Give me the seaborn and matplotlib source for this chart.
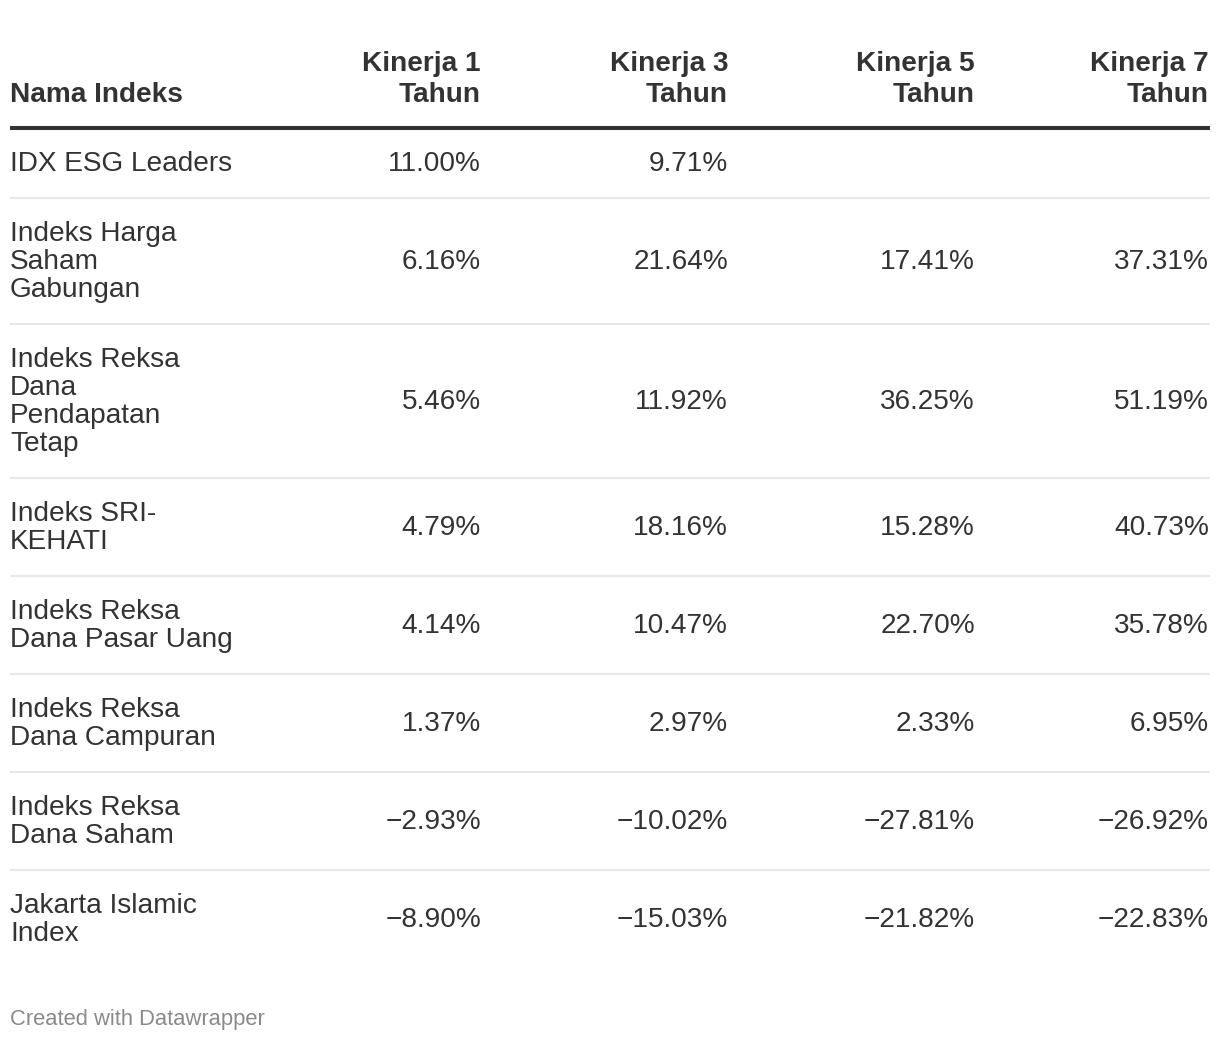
import matplotlib.pyplot as plt
import seaborn as sns
import numpy as np

# table data
names = [
    "IDX ESG Leaders",
    "Indeks Harga\nSaham\nGabungan",
    "Indeks Reksa\nDana\nPendapatan\nTetap",
    "Indeks SRI-\nKEHATI",
    "Indeks Reksa\nDana Pasar Uang",
    "Indeks Reksa\nDana Campuran",
    "Indeks Reksa\nDana Saham",
    "Jakarta Islamic\nIndex",
]
headers = ["Nama Indeks", "Kinerja 1\nTahun", "Kinerja 3\nTahun", "Kinerja 5\nTahun", "Kinerja 7\nTahun"]
kinerja_1 = [11.00, 6.16, 5.46, 4.79, 4.14, 1.37, -2.93, -8.90]
kinerja_3 = [9.71, 21.64, 11.92, 18.16, 10.47, 2.97, -10.02, -15.03]
kinerja_5 = [None, 17.41, 36.25, 15.28, 22.70, 2.33, -27.81, -21.82]
kinerja_7 = [None, 37.31, 51.19, 40.73, 35.78, 6.95, -26.92, -22.83]

sns.set_theme(style="white")
plt.rcParams["font.family"] = ["Liberation Sans", "DejaVu Sans"]

W, H = 1220, 1040
fig = plt.figure(figsize=(W / 100, H / 100), dpi=100)
ax = fig.add_axes([0, 0, 1, 1])
ax.set_xlim(0, W)
ax.set_ylim(H, 0)
ax.axis("off")

txt = "#333333"
fs = 20.2
line_h = 28
pad = 42
left, right = 10, 1210
col_right = [481, 728, 975, 1209]


def fmt(v):
    if v is None:
        return ""
    s = f"{abs(v):.2f}%"
    return ("\u2212" + s) if v < 0 else s


# header
for i, h in enumerate(headers):
    lines = h.split("\n")
    base = 102
    for j, ln in enumerate(reversed(lines)):
        if i == 0:
            ax.text(left, base - j * 31, ln, ha="left", va="baseline",
                    fontsize=fs, fontweight="bold", color=txt)
        else:
            ax.text(col_right[i - 1], base - j * 31, ln, ha="right", va="baseline",
                    fontsize=fs, fontweight="bold", color=txt)

header_y = 128
ax.hlines(header_y, left, right, color=txt, lw=2.9)

cols = [kinerja_1, kinerja_3, kinerja_5, kinerja_7]
top = header_y
for r, name in enumerate(names):
    lines = name.split("\n")
    h = pad + line_h * len(lines)
    for j, ln in enumerate(lines):
        ax.text(left, top + 43 + line_h * j, ln, ha="left", va="baseline",
                fontsize=fs, color=txt)
    for c, vals in enumerate(cols):
        ax.text(col_right[c], top + h / 2 + 8, fmt(vals[r]), ha="right",
                va="baseline", fontsize=fs, color=txt)
    top += h
    if r < len(names) - 1:
        ax.hlines(top, left, right, color="#e8e8e8", lw=1.5)

ax.text(left, 1025, "Created with Datawrapper", ha="left", va="baseline",
        fontsize=15.8, color="#8a8a8a")

fig.savefig("out.png", dpi=100, facecolor="white")
